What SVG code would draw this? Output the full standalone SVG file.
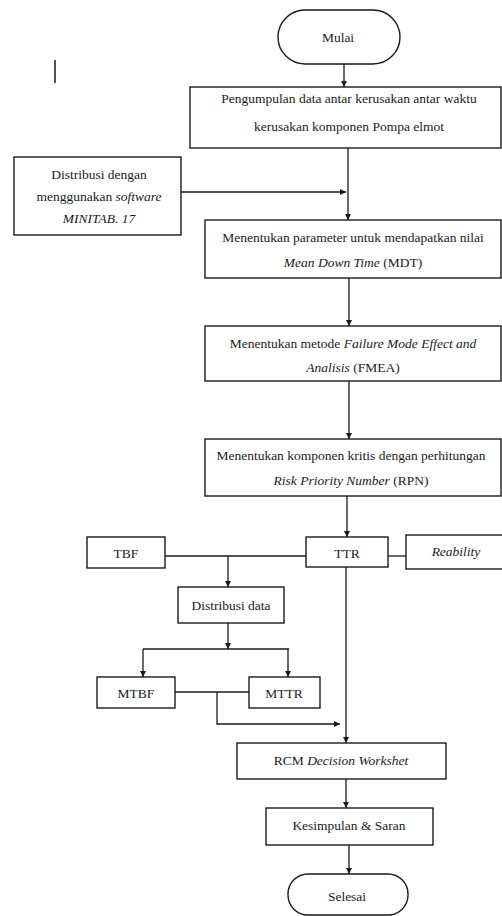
<svg xmlns="http://www.w3.org/2000/svg" width="502" height="916" viewBox="0 0 502 916">
<style>
.box{fill:#fff;stroke:#1a1a1a;stroke-width:1.4}
.c{fill:none;stroke:#1a1a1a;stroke-width:1.3}
text{font-family:"Liberation Serif","Times New Roman",serif;font-size:13.5px;fill:#1a1a1a;text-anchor:middle}
.i{font-style:italic}
</style>
<defs>
<marker id="ah" markerUnits="userSpaceOnUse" markerWidth="7" markerHeight="7" refX="6" refY="3" orient="auto">
<path d="M0,0 L6,3 L0,6 z" fill="#1a1a1a"/>
</marker>
</defs>
<rect width="502" height="916" fill="#fff"/>
<line x1="55" y1="60" x2="55" y2="83" stroke="#1a1a1a" stroke-width="1.5"/>
<g id="connectors">
<line class="c" x1="344" y1="64" x2="344" y2="87" marker-end="url(#ah)"/>
<line class="c" x1="348" y1="148" x2="348" y2="220" marker-end="url(#ah)"/>
<line class="c" x1="181" y1="192" x2="346" y2="192" marker-end="url(#ah)"/>
<line class="c" x1="349" y1="278" x2="349" y2="326" marker-end="url(#ah)"/>
<line class="c" x1="349" y1="381" x2="349" y2="439" marker-end="url(#ah)"/>
<line class="c" x1="347" y1="496" x2="347" y2="537" marker-end="url(#ah)"/>
<line class="c" x1="165" y1="556" x2="306" y2="556"/>
<line class="c" x1="388" y1="556" x2="406" y2="556"/>
<line class="c" x1="228" y1="556" x2="228" y2="587" marker-end="url(#ah)"/>
<line class="c" x1="228" y1="623" x2="228" y2="649" marker-end="url(#ah)"/>
<line class="c" x1="143" y1="649" x2="289" y2="649"/>
<line class="c" x1="143" y1="649" x2="143" y2="677" marker-end="url(#ah)"/>
<line class="c" x1="288" y1="649" x2="288" y2="677" marker-end="url(#ah)"/>
<line class="c" x1="175" y1="692" x2="249" y2="692"/>
<polyline class="c" points="217,692 217,724 340,724" marker-end="url(#ah)"/>
<line class="c" x1="346" y1="567" x2="346" y2="743" marker-end="url(#ah)"/>
<line class="c" x1="346" y1="779" x2="346" y2="808" marker-end="url(#ah)"/>
<line class="c" x1="349" y1="845" x2="349" y2="874" marker-end="url(#ah)"/>
</g>
<g id="mulai"><rect class="box" x="278" y="10" width="122" height="54" rx="27"/><text x="338" y="42">Mulai</text></g>
<g id="pengumpulan"><rect class="box" x="190" y="87" width="311" height="61"/>
<text x="349" y="103">Pengumpulan data antar kerusakan antar waktu</text>
<text x="349" y="131">kerusakan komponen Pompa elmot</text></g>
<g id="distribusi-minitab"><rect class="box" x="14" y="157" width="167" height="78"/>
<text x="99" y="179">Distribusi dengan</text>
<text x="99" y="201">menggunakan <tspan class="i">software</tspan></text>
<text x="99" y="223" class="i">MINITAB. 17</text></g>
<g id="mdt"><rect class="box" x="205" y="220" width="296" height="58"/>
<text x="353" y="242">Menentukan parameter untuk mendapatkan nilai</text>
<text x="353" y="267"><tspan class="i">Mean Down Time</tspan> (MDT)</text></g>
<g id="fmea"><rect class="box" x="205" y="326" width="296" height="55"/>
<text x="353" y="348">Menentukan metode <tspan class="i">Failure Mode Effect and</tspan></text>
<text x="353" y="372"><tspan class="i">Analisis</tspan> (FMEA)</text></g>
<g id="rpn"><rect class="box" x="205" y="439" width="296" height="57"/>
<text x="351" y="460">Menentukan komponen kritis dengan perhitungan</text>
<text x="351" y="485"><tspan class="i">Risk Priority Number</tspan> (RPN)</text></g>
<g id="tbf"><rect class="box" x="87" y="537" width="78" height="31"/><text x="126" y="558">TBF</text></g>
<g id="ttr"><rect class="box" x="306" y="537" width="82" height="30"/><text x="347" y="558">TTR</text></g>
<g id="reability"><rect class="box" x="406" y="535" width="100" height="34"/><text x="456" y="556" class="i">Reability</text></g>
<g id="distribusi-data"><rect class="box" x="178" y="587" width="106" height="36"/><text x="231" y="610">Distribusi data</text></g>
<g id="mtbf"><rect class="box" x="97" y="677" width="78" height="31"/><text x="136" y="698">MTBF</text></g>
<g id="mttr"><rect class="box" x="249" y="677" width="71" height="31"/><text x="284" y="698">MTTR</text></g>
<g id="rcm"><rect class="box" x="237" y="743" width="209" height="36"/><text x="341" y="765">RCM <tspan class="i">Decision Workshet</tspan></text></g>
<g id="kesimpulan"><rect class="box" x="266" y="808" width="167" height="37"/><text x="349" y="830">Kesimpulan &amp; Saran</text></g>
<g id="selesai"><rect class="box" x="288" y="874" width="120" height="41" rx="20"/><text x="347" y="901">Selesai</text></g>
</svg>
